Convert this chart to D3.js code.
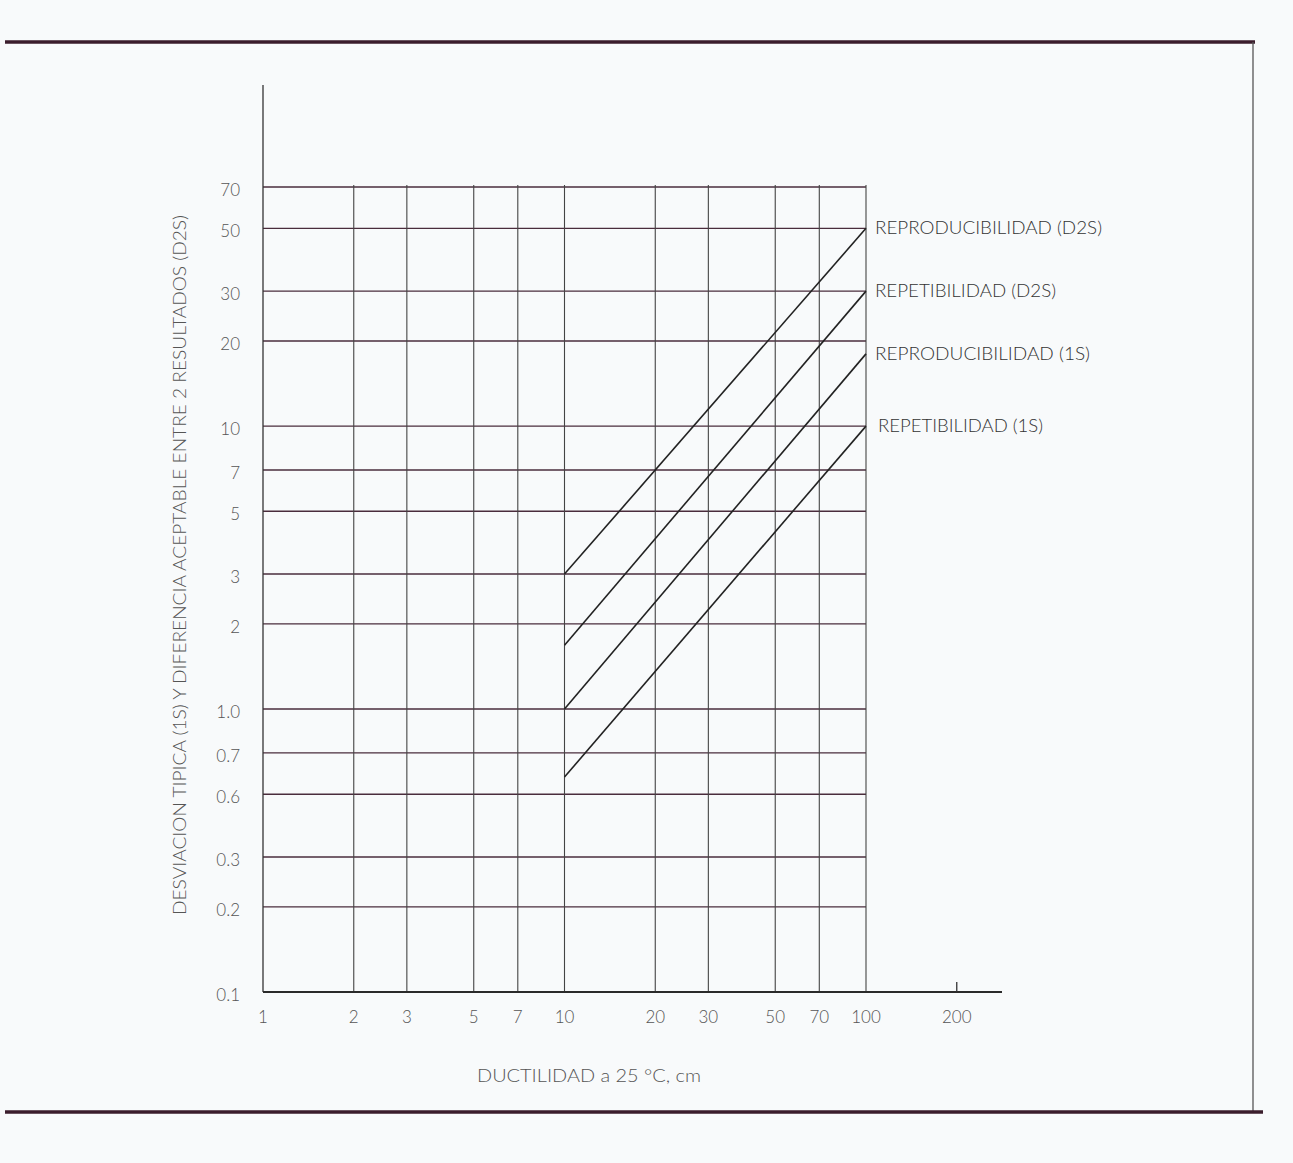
<!DOCTYPE html>
<html>
<head>
<meta charset="utf-8">
<script src="https://cdnjs.cloudflare.com/ajax/libs/d3/7.8.5/d3.min.js"></script>
<style>
  body { margin: 0; background: #f8fafb; }
  svg text { font-family: Lato, "Open Sans", "DejaVu Sans", sans-serif; font-weight: 300; fill: #555; }
</style>
</head>
<body>
<div id="chart"></div>
<script>
// ductility (cm) on a log axis
var xTicks = [1, 2, 3, 5, 7, 10, 20, 30, 50, 70, 100];
var xTickLabels = ["1", "2", "3", "5", "7", "10", "20", "30", "50", "70", "100"];
var xExtraTick = 200;

// precision values on a log axis (label "0.6" sits on the 0.5 line in the original)
var yTicks = [0.1, 0.2, 0.3, 0.5, 0.7, 1, 2, 3, 5, 7, 10, 20, 30, 50, 70];
var yTickLabels = ["0.1", "0.2", "0.3", "0.6", "0.7", "1.0", "2", "3", "5", "7", "10", "20", "30", "50", "70"];

// each series: value at 10 cm and at 100 cm
var seriesNames = ["REPRODUCIBILIDAD (D2S)", "REPETIBILIDAD (D2S)", "REPRODUCIBILIDAD (1S)", "REPETIBILIDAD (1S)"];
var seriesX = [10, 100];
var seriesValues = [
  [3, 50],
  [1.68, 30],
  [1.0, 18],
  [0.575, 10]
];

var W = 1293, H = 1163;

var svg = d3.select("#chart").append("svg")
  .attr("width", W)
  .attr("height", H);

// set the scales
var x = d3.scaleLog().domain([1, 100]).range([263, 866]);
var y = d3.scaleLog().domain([0.1, 70]).range([992, 187]);

// page frame from the scan
svg.append("line").attr("x1", 5).attr("x2", 1255).attr("y1", 42).attr("y2", 42)
  .attr("stroke", "#3b1d2c").attr("stroke-width", 3.5);
svg.append("line").attr("x1", 1253).attr("x2", 1253).attr("y1", 42).attr("y2", 1112)
  .attr("stroke", "#555").attr("stroke-width", 1.3);
svg.append("line").attr("x1", 5).attr("x2", 1263).attr("y1", 1112).attr("y2", 1112)
  .attr("stroke", "#3b1d2c").attr("stroke-width", 3.5);

// horizontal grid
svg.append("g").selectAll("line")
  .data(yTicks)
  .enter().append("line")
  .attr("x1", x(1)).attr("x2", x(100))
  .attr("y1", function(d) { return y(d); })
  .attr("y2", function(d) { return y(d); })
  .attr("stroke", "#4a2c3c")
  .attr("stroke-width", 1.4);

// vertical grid
svg.append("g").selectAll("line")
  .data(xTicks.slice(1))
  .enter().append("line")
  .attr("x1", function(d) { return x(d); })
  .attr("x2", function(d) { return x(d); })
  .attr("y1", y(70) - 2).attr("y2", y(0.1))
  .attr("stroke", "#444")
  .attr("stroke-width", 1.1);

// axes lines
svg.append("line").attr("x1", x(1)).attr("x2", x(1)).attr("y1", 85).attr("y2", y(0.1))
  .attr("stroke", "#333").attr("stroke-width", 1.3);
svg.append("line").attr("x1", x(1)).attr("x2", 1002).attr("y1", y(0.1)).attr("y2", y(0.1))
  .attr("stroke", "#2a2a2a").attr("stroke-width", 2);
svg.append("line").attr("x1", x(xExtraTick)).attr("x2", x(xExtraTick))
  .attr("y1", y(0.1) - 10).attr("y2", y(0.1))
  .attr("stroke", "#333").attr("stroke-width", 1.3);

// y tick labels
svg.append("g").selectAll("text")
  .data(yTicks)
  .enter().append("text")
  .attr("x", 240)
  .attr("y", function(d) { return y(d) + 9; })
  .attr("text-anchor", "end")
  .style("font-size", "17px")
  .text(function(d, i) { return yTickLabels[i]; });

// x tick labels
svg.append("g").selectAll("text")
  .data(xTicks.concat([xExtraTick]))
  .enter().append("text")
  .attr("x", function(d) { return x(d); })
  .attr("y", 1023)
  .attr("text-anchor", "middle")
  .style("font-size", "17px")
  .text(function(d, i) { return i < xTickLabels.length ? xTickLabels[i] : String(d); });

// precision lines
var line = d3.line()
  .x(function(d) { return x(d[0]); })
  .y(function(d) { return y(d[1]); });

svg.append("g").selectAll("path")
  .data(seriesValues)
  .enter().append("path")
  .attr("d", function(v) { return line(seriesX.map(function(xx, i) { return [xx, v[i]]; })); })
  .attr("fill", "none")
  .attr("stroke", "#222")
  .attr("stroke-width", 1.6);

// series labels
var labelWidths = [227, 181, 215, 165];
svg.append("g").selectAll("text")
  .data(seriesNames)
  .enter().append("text")
  .attr("x", function(d, i) { return i == 3 ? 878 : 875; })
  .attr("y", function(d, i) { return y(seriesValues[i][1]) + 6; })
  .attr("textLength", function(d, i) { return labelWidths[i]; })
  .attr("lengthAdjust", "spacingAndGlyphs")
  .style("font-size", "17px")
  .style("fill", "#333")
  .text(function(d) { return d; });

// axis titles
svg.append("text")
  .attr("transform", "translate(186,565) rotate(-90)")
  .attr("text-anchor", "middle")
  .attr("textLength", 700)
  .attr("lengthAdjust", "spacingAndGlyphs")
  .style("font-size", "17px")
  .text("DESVIACION TIPICA (1S) Y DIFERENCIA ACEPTABLE ENTRE 2 RESULTADOS (D2S)");

svg.append("text")
  .attr("x", 589)
  .attr("y", 1082)
  .attr("text-anchor", "middle")
  .attr("textLength", 224)
  .attr("lengthAdjust", "spacingAndGlyphs")
  .style("font-size", "17px")
  .text("DUCTILIDAD a 25 °C, cm");
</script>
</body>
</html>
